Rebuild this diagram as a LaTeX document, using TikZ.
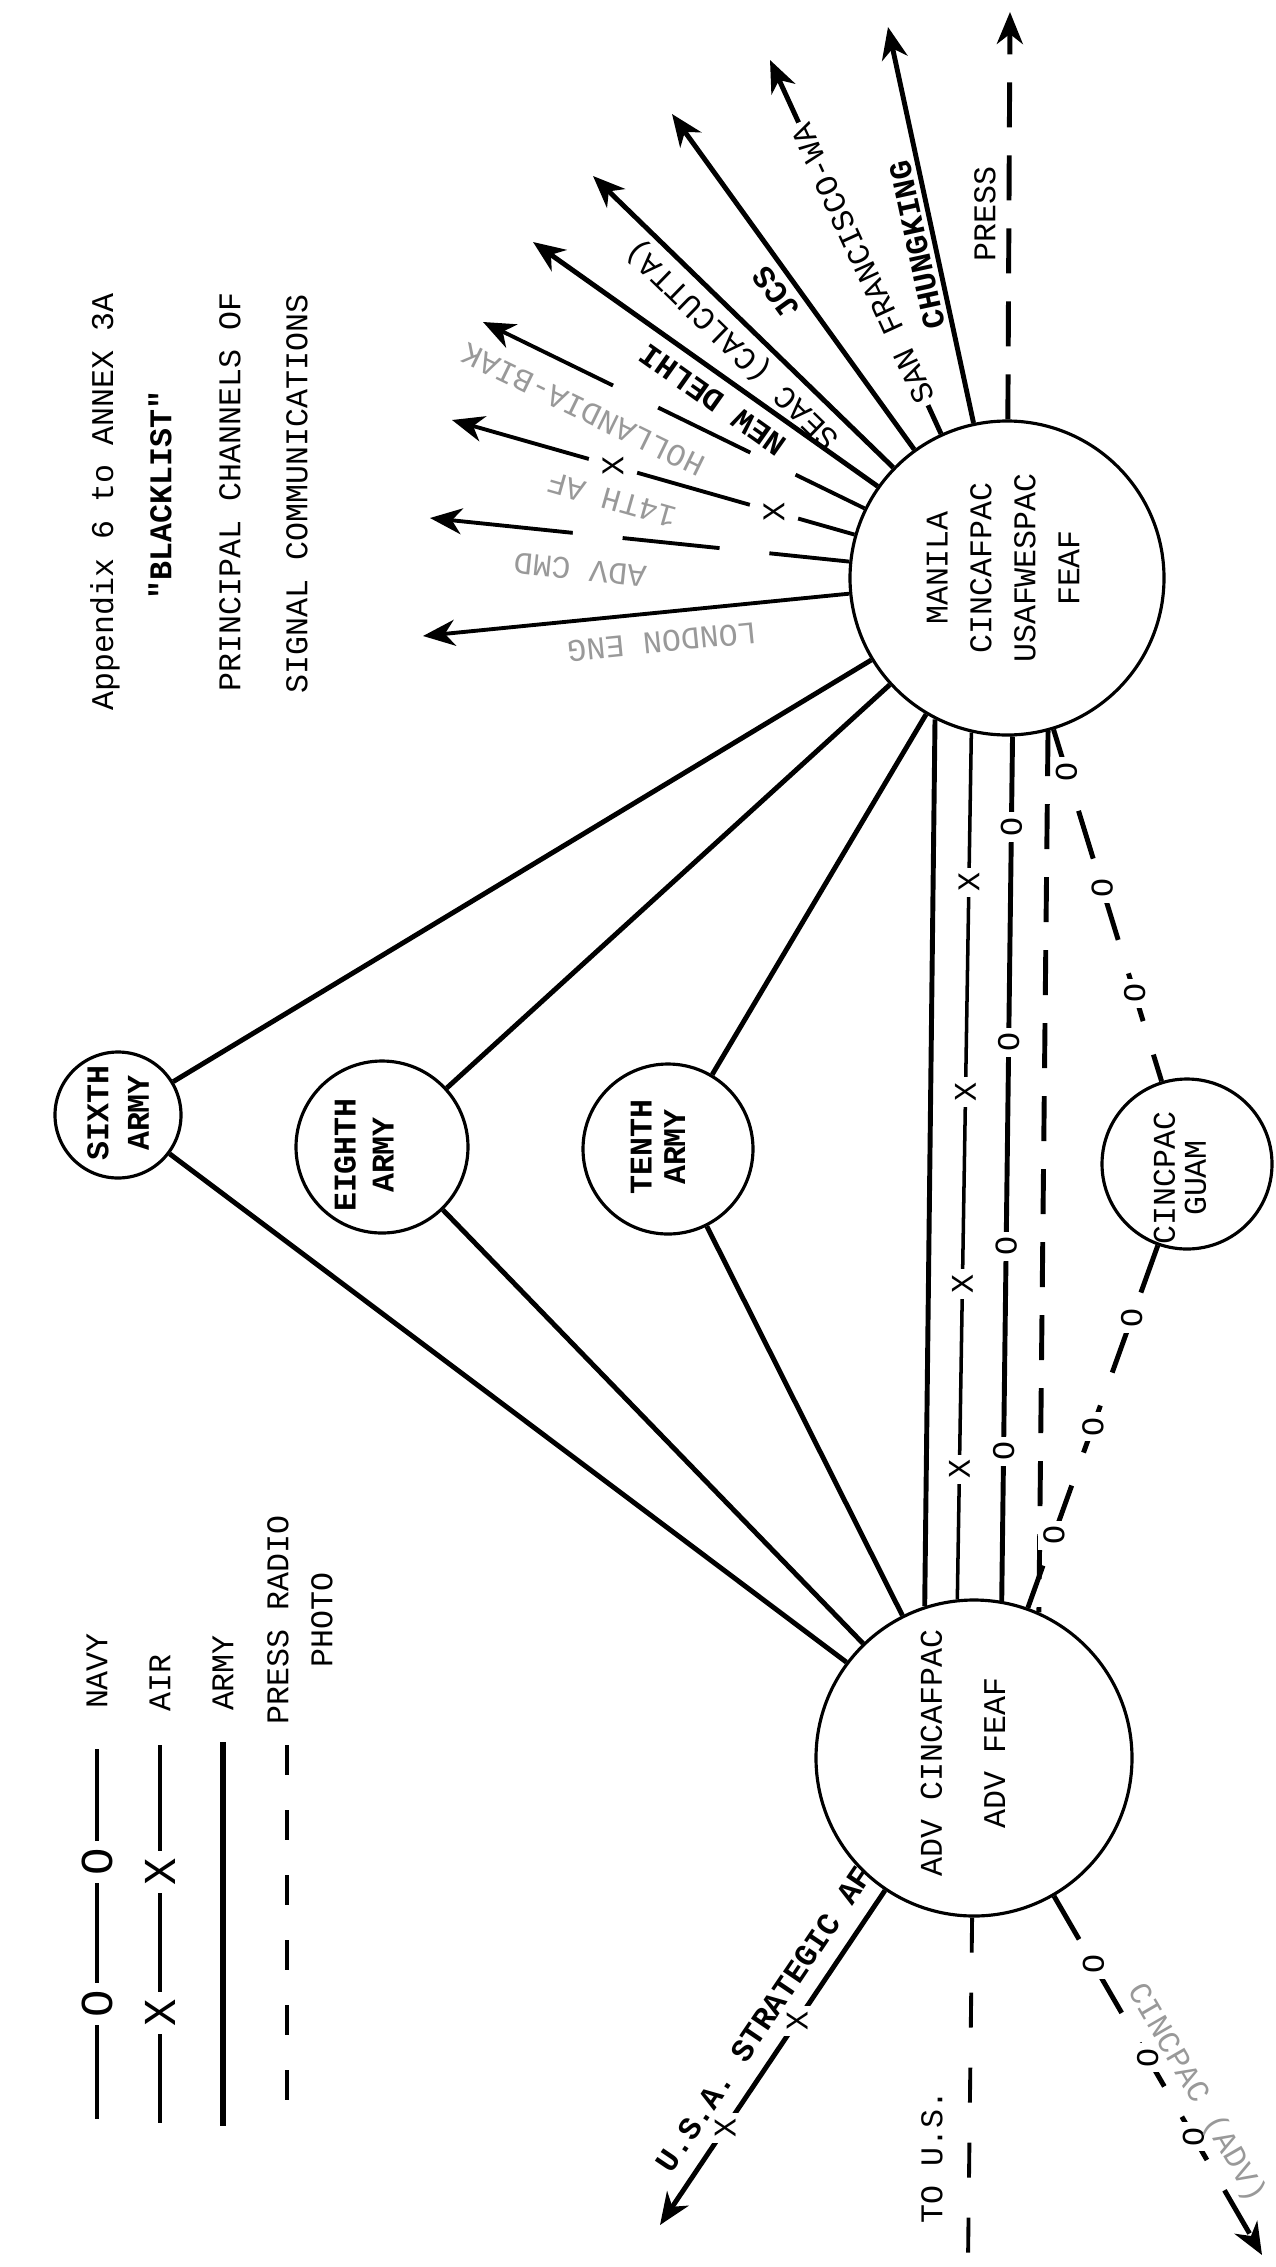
\documentclass[tikz,border=0pt]{standalone}
\usepackage{fontspec}
\newfontfamily\tw{Liberation Mono}
\usetikzlibrary{arrows.meta}
\begin{document}
\begin{tikzpicture}[x=0.1mm,y=-0.1mm,
  every node/.style={font=\tw\fontsize{9}{12}\selectfont, inner sep=0pt},
  hub/.style={circle, draw, line width=0.9pt, inner sep=0pt},
  bd/.style={font=\tw\bfseries\fontsize{9}{11}\selectfont},
  faint/.style={text=black!40},
  link/.style={line width=1.4pt},
  thinlink/.style={line width=1pt},
  arr/.style={line width=1.4pt, -{Stealth[length=3.2mm,width=2.6mm,inset=1mm]}},
  dsh/.style={line width=1.4pt, dash pattern=on 4.5mm off 2.8mm},
  ndsh/.style={line width=1.4pt, dash pattern=on 5mm off 3.5mm},
  mk/.style={fill=white, inner sep=1.5pt, rotate=90},
  gap/.style={fill=white, inner sep=0pt, minimum width=5mm, minimum height=1.2mm},
  bigmk/.style={fill=white, inner sep=2pt, font=\tw\fontsize{13}{13}\selectfont},
]
\useasboundingbox (0,0) rectangle (1276,2267);
\fill[white] (0,0) rectangle (1276,2267);

% ---------- title ----------
\node[rotate=90] (t1) at (105,502) {Appendix 6 to ANNEX 3A};
\node[rotate=90, bd] (t2) at (160,495) {"BLACKLIST"};
\node[rotate=90] (t3) at (230,492) {PRINCIPAL CHANNELS OF};
\node[rotate=90] (t4) at (297,494) {SIGNAL COMMUNICATIONS};

% ---------- circles ----------
\node[hub, minimum size=31.4mm] (M) at (1007,578) {};
\node[hub, minimum size=31.6mm] (A) at (974,1758) {};
\node[hub, minimum size=12.6mm] (E6) at (118,1115) {};
\node[hub, minimum size=17.2mm] (E8) at (382,1147) {};
\node[hub, minimum size=17mm] (E10) at (668,1149) {};
\node[hub, minimum size=17mm] (CP) at (1187,1164) {};

\node[rotate=90, align=center, font=\tw\fontsize{9}{12.5}\selectfont] (Mt) at (1003,568) {MANILA\\CINCAFPAC\\USAFWESPAC\\FEAF};
\node[rotate=90, align=center, font=\tw\fontsize{9}{18}\selectfont] (At) at (963,1753) {ADV CINCAFPAC\\ADV FEAF};
\node[rotate=90, align=center, font=\tw\bfseries\fontsize{9}{11.5}\selectfont] (E6t) at (118,1113) {SIXTH\\ARMY};
\node[rotate=90, align=center, font=\tw\bfseries\fontsize{9}{10.8}\selectfont] (E8t) at (364,1155) {EIGHTH\\ARMY};
\node[rotate=90, align=center, font=\tw\bfseries\fontsize{9}{9.5}\selectfont] (E10t) at (658,1147) {TENTH\\ARMY};
\node[rotate=90, align=center, font=\tw\fontsize{9}{8.8}\selectfont] (CPt) at (1180,1178) {CINCPAC\\GUAM};

% ---------- army links ----------
\draw[link] (E6) -- (M);
\draw[link] (E6) -- (A);
\draw[link] (E8) -- (M);
\draw[link] (E8) -- (A);
\draw[link] (E10) -- (M);
\draw[link] (E10) -- (A);

% ---------- Manila - ADV ----------
\draw[link] (M.243.7) -- (A.108.2);
\draw[thinlink] (M.257.4) -- node[mk,pos=.173] (ax1) {X} node[mk,pos=.415] (ax2) {X}
   node[mk,pos=.636] (ax3) {X} node[mk,pos=.85] (ax4) {X} (A.96.1);
\draw[link] (M.272.2) -- node[mk,pos=.105] (ao1) {O} node[mk,pos=.354] (ao2) {O}
   node[mk,pos=.59] (ao3) {O} node[mk,pos=.827] (ao4) {O} (A.80);
\draw[dsh] (M.285.8) -- (A.66.7);

% ---------- navy via CINCPAC ----------
\draw[ndsh] (M) -- node[mk,pos=.12] (co1) {O} node[mk,pos=.45] (co2) {O} node[mk,pos=.75] (co3) {O} (CP);
\draw[ndsh] (CP) -- node[mk,pos=.2] (co4) {O} node[mk,pos=.5] (co5) {O} node[mk,pos=.8] (co6) {O} (A);

% ---------- fan from Manila ----------
\coordinate (tPress) at (1010,12);
\coordinate (tChung) at (888,27);
\coordinate (tSF) at (770,60);
\coordinate (tJCS) at (672,114);
\coordinate (tSEAC) at (593,176);
\coordinate (tND) at (533,242);
\coordinate (tFA) at (483,322);
\coordinate (tFB) at (452,420);
\coordinate (tFC) at (430,518);
\coordinate (tFD) at (423,636);

\draw[dsh, -{Stealth[length=3.2mm,width=2.6mm,inset=1mm]}] (M) -- (tPress);
\draw[arr] (M) -- (tChung);
\draw[arr] (M) -- (tSF);
\draw[arr] (M) -- (tJCS);
\draw[arr] (M) -- (tSEAC);
\draw[arr] (M) -- (tND);
\draw[arr, line width=1.1pt] (M) -- node[gap,pos=.24,sloped] (ga1) {} node[gap,pos=.6,sloped] (ga2) {} (tFA);
\draw[arr, line width=1.1pt] (M) -- node[gap,pos=.2,sloped] (gb0) {} node[mk,pos=.2] (bx1) {X}
   node[gap,pos=.6,sloped] (gb1) {} node[mk,pos=.6] (bx2) {X} (tFB);
\draw[arr, line width=1.1pt] (M) -- node[gap,pos=.25,sloped] (gc1) {} node[gap,pos=.6,sloped] (gc2) {} (tFC);
\draw[arr, line width=1.1pt] (M) -- (tFD);

\node[rotate=90] (lPress) at (985,214) {PRESS};
\node[rotate=102.2, bd] (lChung) at (917,245) {CHUNGKING};
\node[rotate=114.6, fill=white, inner sep=1pt] (lSF) at (863,264) {SAN FRANCISCO-WA};
\node[rotate=125.8, bd] (lJCS) at (776,293) {JCS};
\node[rotate=135.8] (lSEAC) at (733,344) {SEAC (CALCUTTA)};
\node[rotate=144.7, bd] (lND) at (713,400) {NEW DELHI};
% faint, barely legible labels
\node[rotate=154, faint] (lFA) at (583,410) {HOLLANDIA-BIAK};
\node[rotate=164.1, faint] (lFB) at (612,500) {14TH AF};
\node[rotate=174.1, faint] (lFC) at (580,570) {ADV CMD};
\node[rotate=185.7, faint] (lFD) at (662,642) {LONDON ENG};

% ---------- from ADV ----------
\coordinate (tStrat) at (660,2225);
\coordinate (tUS) at (968,2262);
\coordinate (tCA) at (1262,2255);
\draw[arr] (A) -- node[mk,pos=.39] (sx1) {X} node[mk,pos=.71] (sx2) {X} (tStrat);
\draw[line width=1.1pt, dash pattern=on 3.5mm off 4mm] (A) -- (tUS);
\draw[ndsh, -{Stealth[length=3.2mm,width=2.6mm,inset=1mm]}] (A) -- node[mk,pos=.19] (gx1) {O} node[mk,pos=.45] (gx2) {O} node[mk,pos=.67] (gx3) {O} (tCA);
\node[rotate=56, bd] (lStrat) at (764,2019) {U.S.A. STRATEGIC AF};
\node[rotate=90] (lUS) at (932,2157) {TO U.S.};
\node[rotate=-60, faint] (lCA) at (1196,2093) {CINCPAC (ADV)};

% ---------- legend ----------
\coordinate (n1) at (97,1749);  \coordinate (n2) at (97,2119);
\coordinate (f1) at (160,1745); \coordinate (f2) at (160,2123);
\coordinate (r1) at (223,1742); \coordinate (r2) at (223,2126);
\coordinate (p1) at (287,1745); \coordinate (p2) at (287,2121);
\draw[link] (n1) -- node[bigmk,pos=.305,rotate=90] (lo1) {O} node[bigmk,pos=.689,rotate=90] (lo2) {O} (n2);
\draw[link] (f1) -- node[bigmk,pos=.336,rotate=90] (lx1) {X} node[bigmk,pos=.709,rotate=90] (lx2) {X} (f2);
\draw[line width=1.8pt] (r1) -- (r2);
\draw[line width=1pt, dash pattern=on 3mm off 3.5mm] (p1) -- (p2);
\node[rotate=90] (lg1) at (97,1671) {NAVY};
\node[rotate=90] (lg2) at (160,1683) {AIR};
\node[rotate=90] (lg3) at (223,1673) {ARMY};
\node[rotate=90, align=center, font=\tw\fontsize{9}{12.5}\selectfont] (lg4) at (300,1620) {PRESS RADIO\\PHOTO};
\end{tikzpicture}
\end{document}
